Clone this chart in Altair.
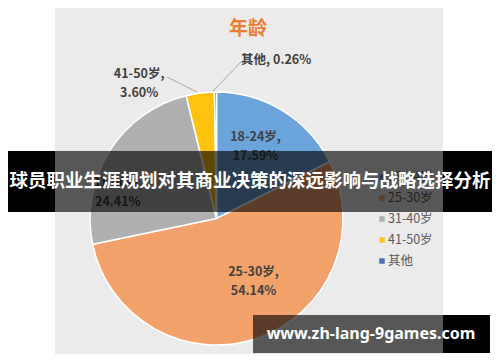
import altair as alt
import pandas as pd

# ---- data ----
cats = ["18-24岁", "25-30岁", "31-40岁", "41-50岁", "其他"]
vals = [17.59, 54.14, 24.41, 3.60, 0.26]
colors = ["#6ba4da", "#f3a26c", "#b0b0b0", "#ffc20e", "#4a70bf"]
title_text = "年龄"
banner_text = "球员职业生涯规划对其商业决策的深远影响与战略选择分析"
watermark_text = "www.zh-lang-9games.com"

labels = [f"{c},\n{v:.2f}%" for c, v in zip(cats, vals)]
labels[-1] = f"{cats[-1]}, {vals[-1]:.2f}%"

df = pd.DataFrame({"cat": cats, "value": vals, "idx": list(range(len(cats))), "label": labels})
dummy = pd.DataFrame({"a": [0]})

W, H = 484, 346
CX, CY, R = 208.5, 210.5, 126.5
FONT = "Noto Sans CJK SC"

color_scale = alt.Scale(domain=cats, range=colors)

panel = alt.Chart(dummy).mark_rect(color="#ebebeb").encode(
    x=alt.value(47), x2=alt.value(435), y=alt.value(0), y2=alt.value(H))

pie = alt.Chart(df).mark_arc(radius=R, stroke="white", strokeWidth=1.5).encode(
    theta=alt.Theta("value:Q", stack=True),
    order=alt.Order("idx:Q"),
    color=alt.Color("cat:N", scale=color_scale, legend=None),
    x=alt.value(CX), y=alt.value(CY),
)

lead1 = alt.Chart(dummy).mark_rule(color="#a6a6a6", strokeWidth=1).encode(
    x=alt.value(205), y=alt.value(83), x2=alt.value(233), y2=alt.value(54))
lead2 = alt.Chart(dummy).mark_rule(color="#a6a6a6", strokeWidth=1).encode(
    x=alt.value(159), y=alt.value(69), x2=alt.value(189), y2=alt.value(84))

# label placement styles per slice: radius, dx, dy
label_style = {
    "18-24岁": (82, -4, -12),
    "25-30岁": (70, 14, -13),
    "31-40岁": (100, -14, 18),
    "41-50岁": (150, -58, 4),
    "其他": (162, 61, 3),
}
label_layers = []
for c, (r, ddx, ddy) in label_style.items():
    label_layers.append(
        alt.Chart(df).transform_calculate(
            txt=f"datum.cat == '{c}' ? datum.label : ''"
        ).mark_text(radius=r, dx=ddx, dy=ddy, font=FONT, fontWeight="bold", fontSize=12.5,
                    color="#404040", lineBreak="\n", lineHeight=19, align="center",
                    baseline="middle").encode(
            theta=alt.Theta("value:Q", stack=True),
            order=alt.Order("idx:Q"),
            text="txt:N",
            x=alt.value(CX), y=alt.value(CY),
        )
    )

title = alt.Chart(dummy).mark_text(text=title_text, font=FONT, fontWeight="bold", fontSize=19,
                                   color="#ed7d31").encode(x=alt.value(240), y=alt.value(21))

leg_y = alt.Y("cat:N", scale=alt.Scale(domain=cats, range=[169, 253], padding=0), axis=None)
leg_sq = alt.Chart(df).mark_square(size=30, opacity=1).encode(
    x=alt.value(374), y=leg_y, color=alt.Color("cat:N", scale=color_scale, legend=None))
leg_tx = alt.Chart(df).mark_text(align="left", baseline="middle", font=FONT, fontSize=12.5,
                                 color="#595959", dx=0).encode(
    x=alt.value(380), y=leg_y, text="cat:N")

ban_l = alt.Chart(dummy).mark_rect(color="black").encode(
    x=alt.value(0), x2=alt.value(47), y=alt.value(143), y2=alt.value(204))
ban_r = alt.Chart(dummy).mark_rect(color="black").encode(
    x=alt.value(435), x2=alt.value(W), y=alt.value(143), y2=alt.value(204))
ban_m = alt.Chart(dummy).mark_rect(color="black", opacity=0.63).encode(
    x=alt.value(47), x2=alt.value(435), y=alt.value(143), y2=alt.value(204))
ban_t = alt.Chart(dummy).mark_text(text=banner_text, font=FONT, fontWeight="bold", fontSize=18.5,
                                   color="white").encode(x=alt.value(W / 2), y=alt.value(173))

wm_m = alt.Chart(dummy).mark_rect(color="black", opacity=0.63).encode(
    x=alt.value(245), x2=alt.value(435), y=alt.value(307), y2=alt.value(345))
wm_r = alt.Chart(dummy).mark_rect(color="black").encode(
    x=alt.value(435), x2=alt.value(482), y=alt.value(307), y2=alt.value(345))
wm_t = alt.Chart(dummy).mark_text(text=watermark_text, font="Noto Sans", fontWeight="bold",
                                  fontSize=16, color="white").encode(
    x=alt.value(363), y=alt.value(326))

chart = alt.layer(
    panel, pie, lead1, lead2, *label_layers, title, leg_sq, leg_tx,
    ban_l, ban_r, ban_m, ban_t, wm_m, wm_r, wm_t
).properties(
    width=W, height=H, padding=0,
    autosize=alt.AutoSizeParams(type="none"),
    background="white",
).configure_view(stroke=None)

chart.save("out.html", embed_options={"renderer": "svg", "actions": False})
